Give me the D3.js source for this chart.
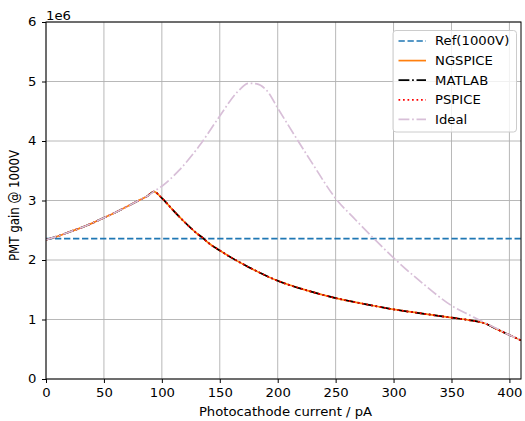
<!DOCTYPE html>
<html>
<head>
<meta charset="utf-8">
<script src="https://cdn.jsdelivr.net/npm/d3@7/dist/d3.min.js"></script>
<style>
  html, body { margin: 0; padding: 0; background: #fff; }
  svg { display: block; font-family: "DejaVu Sans", sans-serif; }
</style>
</head>
<body>
<svg id="chart" width="525" height="421"></svg>
<script>
// Photocathode current (pA) and PMT gain (in units of 1e6)
const refGain = 2.36;

const simX = [0, 10, 20, 30, 40, 50, 60, 70, 80, 88, 93, 100, 110, 120, 130, 136, 140, 150, 160, 175,
              200, 225, 250, 275, 300, 325, 350, 365, 378, 390, 400, 410];
const ngspice = [2.34, 2.40, 2.47, 2.54, 2.62, 2.71, 2.80, 2.90, 3.00, 3.08, 3.15, 3.04, 2.83, 2.63, 2.45, 2.36, 2.29, 2.16, 2.04, 1.88,
                 1.65, 1.49, 1.36, 1.26, 1.17, 1.10, 1.03, 0.99, 0.94, 0.83, 0.74, 0.65];
const matlab = ngspice.slice();
const pspice = ngspice.slice();

const idealX = [0, 10, 20, 30, 40, 50, 60, 70, 80, 88, 93, 100, 115, 132, 150, 165, 175, 182, 190, 201,
                216, 230, 251, 265, 283, 302, 325, 352, 365, 378, 390, 400, 410];
const ideal = [2.34, 2.40, 2.47, 2.54, 2.62, 2.71, 2.80, 2.90, 3.00, 3.08, 3.15, 3.24, 3.51, 3.91, 4.42, 4.82, 4.97, 4.96, 4.86, 4.52,
               4.05, 3.62, 3.01, 2.72, 2.36, 2.00, 1.61, 1.21, 1.08, 0.95, 0.84, 0.74, 0.66];

const xTicks = [0, 50, 100, 150, 200, 250, 300, 350, 400];
const yTicks = [0, 1, 2, 3, 4, 5, 6];

const svg = d3.select("#chart");
const m = { left: 46, right: 521, top: 22, bottom: 379 };
const x = d3.scaleLinear().domain([0, 410]).range([m.left, m.right]);
const y = d3.scaleLinear().domain([0, 6]).range([m.bottom, m.top]);
const fs = 11.8;      // font size
const sx = 1.12;      // horizontal glyph stretch
const lw = 1.7;       // line width

// grid
const grid = svg.append("g");
grid.selectAll("line.gx").data(xTicks).join("line")
  .attr("x1", d => x(d)).attr("x2", d => x(d))
  .attr("y1", m.top).attr("y2", m.bottom)
  .attr("stroke", "#b0b0b0").attr("stroke-width", 0.9);
grid.selectAll("line.gy").data(yTicks).join("line")
  .attr("y1", d => y(d)).attr("y2", d => y(d))
  .attr("x1", m.left).attr("x2", m.right)
  .attr("stroke", "#b0b0b0").attr("stroke-width", 0.9);

// clipping to the axes box
svg.append("clipPath").attr("id", "clip").append("rect")
  .attr("x", m.left).attr("y", m.top).attr("width", m.right - m.left).attr("height", m.bottom - m.top);
const plot = svg.append("g").attr("clip-path", "url(#clip)");

const line = d3.line().curve(d3.curveMonotoneX);
const pts = (xs, ys) => xs.map((v, i) => [x(v), y(ys[i])]);

// reference gain
plot.append("line")
  .attr("x1", x(0)).attr("x2", x(410)).attr("y1", y(refGain)).attr("y2", y(refGain))
  .attr("stroke", "#1f77b4").attr("stroke-width", lw)
  .attr("stroke-dasharray", `${3.7 * lw},${1.6 * lw}`);

const series = [
  { name: "NGSPICE", xs: simX, ys: ngspice, color: "#ff7f0e", dash: null },
  { name: "MATLAB", xs: simX, ys: matlab, color: "#000000", dash: `${6.4 * lw},${1.6 * lw},${1 * lw},${1.6 * lw}` },
  { name: "PSPICE", xs: simX, ys: pspice, color: "#ff0000", dash: `${1 * lw},${1.65 * lw}` },
  { name: "Ideal", xs: idealX, ys: ideal, color: "#d8bfd8", dash: `${6.4 * lw},${1.6 * lw},${1 * lw},${1.6 * lw}` }
];
series.forEach(s => {
  plot.append("path")
    .attr("d", line(pts(s.xs, s.ys)))
    .attr("fill", "none")
    .attr("stroke", s.color)
    .attr("stroke-width", lw)
    .attr("stroke-dasharray", s.dash);
});

// axes
const xAxis = d3.axisBottom(x).tickValues(xTicks).tickSize(4).tickPadding(5.5).tickFormat(d3.format("d"));
const yAxis = d3.axisLeft(y).tickValues(yTicks).tickSize(4).tickPadding(4.5).tickFormat(d3.format("d"));
const gx = svg.append("g").attr("transform", `translate(0,${m.bottom})`).call(xAxis);
const gy = svg.append("g").attr("transform", `translate(${m.left},0)`).call(yAxis);
[gx, gy].forEach(g => {
  g.select(".domain").remove();
  g.selectAll("line").attr("stroke", "#000").attr("stroke-width", 1);
  g.selectAll("text").attr("font-size", fs).attr("font-family", "DejaVu Sans").attr("fill", "#000")
    .attr("transform", `scale(${sx},1)`);
});

// spines
svg.append("rect")
  .attr("x", m.left).attr("y", m.top).attr("width", m.right - m.left).attr("height", m.bottom - m.top)
  .attr("fill", "none").attr("stroke", "#000").attr("stroke-width", 1);

// horizontal text helper
function htext(px, py, str, anchor) {
  return svg.append("g").attr("transform", `translate(${px},${py}) scale(${sx},1)`)
    .append("text").attr("text-anchor", anchor || "start").attr("font-size", fs).text(str);
}

// labels
htext((m.left + m.right) / 2 + 2, 416, "Photocathode current / pA", "middle");
svg.append("text").attr("transform", `translate(18.5,${(m.top + m.bottom) / 2 + 5}) rotate(-90) scale(1,${sx})`)
  .attr("text-anchor", "middle").attr("font-size", fs).text("PMT gain @ 1000V");
htext(m.left, 19.5, "1e6");

// legend
const legendItems = [
  { name: "Ref(1000V)", color: "#1f77b4", dash: `${3.7 * lw},${1.6 * lw}` },
  ...series.map(s => ({ name: s.name, color: s.color, dash: s.dash }))
];
const lg = svg.append("g");
lg.append("rect").attr("x", 393).attr("y", 30.5).attr("width", 123.5).attr("height", 101.5)
  .attr("rx", 3).attr("fill", "#fff").attr("fill-opacity", 0.8)
  .attr("stroke", "#cccccc").attr("stroke-width", 1);
legendItems.forEach((it, i) => {
  const yy = 41 + i * 19.6;
  lg.append("line").attr("x1", 398.5).attr("x2", 426).attr("y1", yy).attr("y2", yy)
    .attr("stroke", it.color).attr("stroke-width", lw).attr("stroke-dasharray", it.dash);
  lg.append("g").attr("transform", `translate(435,${yy + 4.3}) scale(${sx},1)`)
    .append("text").attr("font-size", fs).text(it.name);
});
</script>
</body>
</html>
